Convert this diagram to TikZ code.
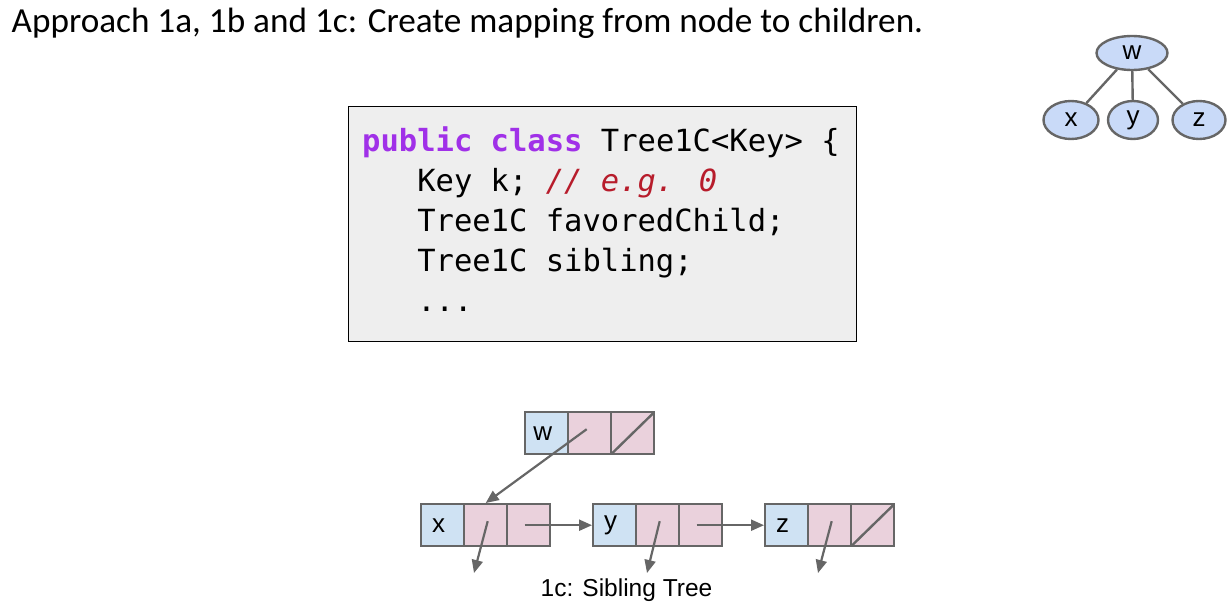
\documentclass[tikz,border=0pt]{standalone}
\usepackage{fontspec}
\setmainfont{Liberation Sans}
\newfontfamily\titlefont{Carlito}
\newfontfamily\codefont{DejaVu Sans Mono}
\usetikzlibrary{arrows.meta,shapes.geometric}
\definecolor{nodeblue}{HTML}{C9DAF8}
\definecolor{cellblue}{HTML}{CFE2F3}
\definecolor{cellpink}{HTML}{EAD1DC}
\definecolor{edgegray}{HTML}{666666}
\definecolor{codebg}{HTML}{EEEEEE}
\definecolor{kwpurple}{HTML}{A030E8}
\definecolor{cmred}{HTML}{B71C2B}
\tikzset{
  treenode/.style={ellipse,draw=edgegray,fill=nodeblue,line width=2.4pt,inner sep=0pt,
    font=\fontsize{26}{28}\selectfont},
  treeedge/.style={draw=edgegray,line width=2.4pt},
  cell/.style={rectangle,draw=edgegray,line width=2.4pt,minimum width=43pt,minimum height=42pt,inner sep=0pt,anchor=north west},
  keycell/.style={cell,fill=cellblue},
  ptrcell/.style={cell,fill=cellpink},
  celltext/.style={font=\fontsize{26}{28}\selectfont},
  ptr/.style={draw=edgegray,line width=2.2pt,-{Triangle[length=13pt,width=11pt]}},
  codeline/.style={anchor=base west,inner sep=0pt,font=\codefont\fontsize{30.5}{36}\selectfont},
}
\begin{document}
\begin{tikzpicture}[x=1pt,y=-1pt]
\useasboundingbox (0,0) rectangle (1230,605);
% title
\node[anchor=base west,inner sep=0pt,font=\titlefont\fontsize{35.2}{40}\selectfont] (title) at (11.5,32) {Approach 1a, 1b and 1c: Create mapping from node to children.};
% small tree
\node[treenode,minimum width=71pt,minimum height=34pt] (tw) at (1132,53) {w};
\node[treenode,minimum width=55pt,minimum height=38pt] (tx) at (1071,120) {x};
\node[treenode,minimum width=50pt,minimum height=38pt] (ty) at (1133,120) {y};
\node[treenode,minimum width=53pt,minimum height=38pt] (tz) at (1199,120) {z};
\draw[treeedge] (tw) -- (tx);
\draw[treeedge] (tw) -- (ty);
\draw[treeedge] (tw) -- (tz);
% code box
\node[draw=black,fill=codebg,line width=1pt,minimum width=508pt,minimum height=235pt,anchor=north west,inner sep=0pt] (codebox) at (348,106) {};
\node[codeline] (code1) at (362,151) {\textcolor{kwpurple}{\bfseries public class} Tree1C<Key> \{};
\node[codeline] (code2) at (362,191) {\hspace*{1.806em}Key k; \textcolor{cmred}{\itshape // e.g. 0}};
\node[codeline] (code3) at (362,231) {\hspace*{1.806em}Tree1C favoredChild;};
\node[codeline] (code4) at (362,271) {\hspace*{1.806em}Tree1C sibling;};
\node[codeline] (code5) at (362,311) {\hspace*{1.806em}...};
% sibling tree records
\node[keycell] (wk) at (524,411) {};
\node[ptrcell] (wp) at (567,411) {};
\node[ptrcell] (ws) at (610,411) {};
\node[keycell] (xk) at (420,503) {};
\node[ptrcell] (xp) at (463,503) {};
\node[ptrcell] (xs) at (506,503) {};
\node[keycell] (yk) at (592,503) {};
\node[ptrcell] (yp) at (635,503) {};
\node[ptrcell] (ys) at (678,503) {};
\node[keycell] (zk) at (764,503) {};
\node[ptrcell] (zp) at (807,503) {};
\node[ptrcell] (zs) at (850,503) {};
\node[celltext] (wl) at ([xshift=-4pt]wk.center) {w};
\node[celltext] (xl) at ([xshift=-4pt]xk.center) {x};
\node[celltext] (yl) at ([xshift=-4pt]yk.center) {y};
\node[celltext] (zl) at ([xshift=-4pt]zk.center) {z};
% null slashes
\draw[treeedge] ([shift={(2,-2)}]ws.south west) -- ([shift={(-2,2)}]ws.north east);
\draw[treeedge] ([shift={(2,-2)}]zs.south west) -- ([shift={(-2,2)}]zs.north east);
% pointers
\coordinate (xc) at (474,573);
\coordinate (yc) at (647,573);
\coordinate (zc) at (818,573);
\draw[ptr] ([shift={(-3,-4)}]wp.center) -- (xp.north);
\draw[ptr] ([shift={(2,-4)}]xp.center) -- (xc);
\draw[ptr] ([shift={(2,-4)}]yp.center) -- (yc);
\draw[ptr] ([shift={(2,-4)}]zp.center) -- (zc);
\draw[ptr] ([xshift=-4pt]xs.center) -- (yk.west);
\draw[ptr] ([xshift=-4pt]ys.center) -- (zk.west);
% caption
\node[anchor=base,inner sep=0pt,font=\fontsize{24.5}{28}\selectfont] (caption) at (626.5,596) {1c: Sibling Tree};
\end{tikzpicture}
\end{document}
